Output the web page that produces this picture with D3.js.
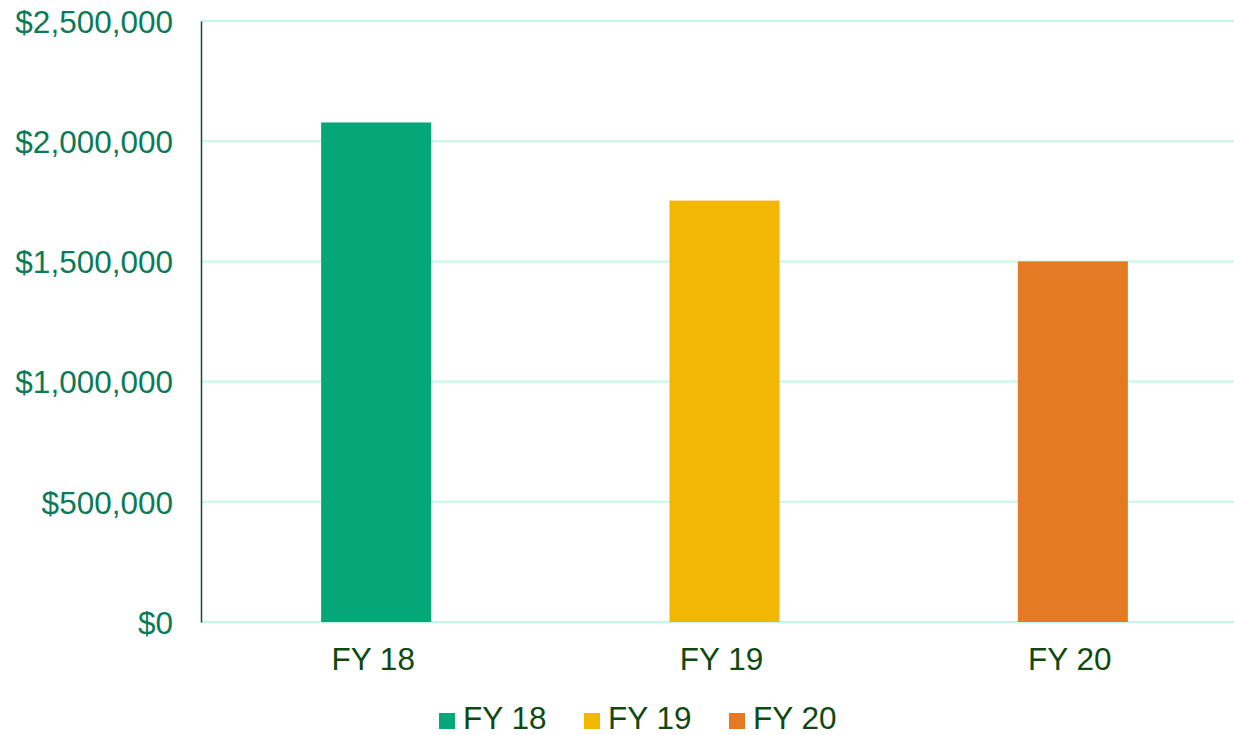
<!DOCTYPE html>
<html><head><meta charset="utf-8">
<script src="https://cdn.jsdelivr.net/npm/d3@7"></script>
<style>body{margin:0;background:#fff;}svg{display:block;font-family:"Liberation Sans",Arial,sans-serif;}</style>
</head><body>
<svg id="c" width="1234" height="735"></svg>
<script>
const categories = ["FY 18", "FY 19", "FY 20"];
const values = [2078000, 1753000, 1500000];
const colors = ["#05A678", "#F2B705", "#E57A25"];
const yTicks = [0, 500000, 1000000, 1500000, 2000000, 2500000];

const svg = d3.select("#c");
const m = {left: 201, top: 21};
const W = 1045, H = 601;
const g = svg.append("g").attr("transform", `translate(${m.left},${m.top})`);

const x = d3.scaleBand().domain(categories).range([1, W + 1]).paddingInner(0.684).paddingOuter(0.342);
const y = d3.scaleLinear().domain([0, 2500000]).range([H, 0]);

// gridlines
g.selectAll(".grid").data(yTicks).join("line")
  .attr("x1", 0).attr("x2", W).attr("y1", d => y(d)).attr("y2", d => y(d))
  .attr("stroke", "#C4F7E5").attr("stroke-width", 2);

// bars
g.selectAll(".bar").data(values).join("rect")
  .attr("x", (d, i) => x(categories[i])).attr("width", x.bandwidth())
  .attr("y", d => y(d)).attr("height", d => H - y(d))
  .attr("fill", (d, i) => colors[i]);

// y axis
const fmt = d3.format("$,.0f");
const yAxis = d3.axisLeft(y).tickValues(yTicks).tickFormat(fmt).tickSize(0).tickPadding(28);
const ya = g.append("g").call(yAxis);
ya.select(".domain").attr("stroke", "#1E4A1E").attr("stroke-width", 1.5);
ya.selectAll("text").attr("font-size", 31.5).attr("fill", "#0B7A57").attr("dy", "0.36em")
  .style("font-family", '"Liberation Sans",Arial,sans-serif');

// x axis
const xAxis = d3.axisBottom(x).tickSize(0).tickPadding(26);
const xa = g.append("g").attr("transform", `translate(-3,${H})`).call(xAxis);
xa.select(".domain").remove();
xa.selectAll("text").attr("font-size", 31.5).attr("fill", "#0E4A10").attr("dy", "0.71em")
  .style("font-family", '"Liberation Sans",Arial,sans-serif');

// legend
const legendX = [439, 584, 729];
const lg = svg.append("g");
categories.forEach((c, i) => {
  lg.append("rect").attr("x", legendX[i]).attr("y", 713).attr("width", 16).attr("height", 16).attr("fill", colors[i]);
  lg.append("text").attr("x", legendX[i] + 24).attr("y", 729).attr("font-size", 31.5)
    .attr("fill", "#0E4A10").text(c);
});
</script>
</body></html>
